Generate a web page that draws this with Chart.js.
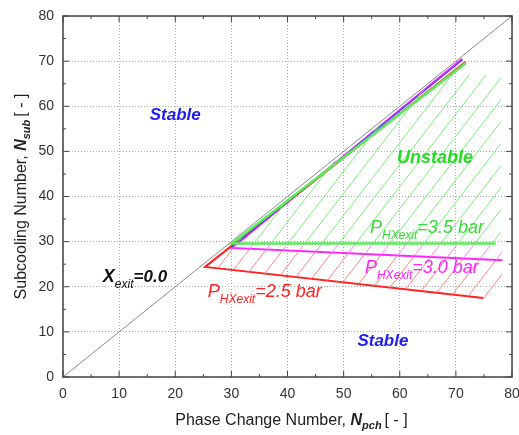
<!DOCTYPE html>
<html>
<head>
<meta charset="utf-8">
<script src="https://cdn.jsdelivr.net/npm/chart.js@4/dist/chart.umd.min.js"></script>
<style>
  html, body { margin: 0; padding: 0; background: #fff; }
  #wrap { width: 519px; height: 435px; }
</style>
</head>
<body>
<div id="wrap"><canvas id="myChart" width="519" height="435"></canvas></div>
<script>
'use strict';

// axis ticks
let xTicks = [0, 10, 20, 30, 40, 50, 60, 70, 80];
let yTicks = [0, 10, 20, 30, 40, 50, 60, 70, 80];

// X_exit = 0.0 line
let diagX = [0, 80];
let diagY = [0, 80];

// stability boundaries (upper branch, vertex, lower branch)
let redX = [71.7, 25.3, 74.9];
let redY = [69.8, 24.4, 17.5];
let blueX = [71.2, 30.1];
let blueY = [70.3, 28.8];
let greenX = [71.8, 30.1, 77.1];
let greenY = [69.6, 29.6, 29.6];
let magentaX = [71.1, 30.1, 78.3];
let magentaY = [70.5, 28.6, 25.9];

// hatched regions
let greenHatchX = [30.1, 67.5, 78, 78];
let greenHatchY = [29.6, 67, 67, 29.6];
let magHatchX = [30.1, 78.3, 78.3, 30.1];
let magHatchY = [29.6, 29.6, 25.9, 28.6];
let redHatchX = [25.3, 30.1, 78.3, 78.3, 74.9];
let redHatchY = [24.4, 28.6, 25.9, 19.5, 17.5];

function pts(xs, ys) {
    return xs.map((x, i) => ({x: x, y: ys[i]}));
}

function hatch(color) {
    let c = document.createElement('canvas');
    c.width = 17;
    c.height = 22;
    let g = c.getContext('2d');
    g.strokeStyle = color;
    g.lineWidth = 1;
    g.beginPath();
    g.moveTo(-17, 44);
    g.lineTo(34, -22);
    g.stroke();
    return g.createPattern(c, 'repeat');
}

function lineSet(xs, ys, color, width) {
    return {
        data: pts(xs, ys),
        showLine: true,
        borderColor: color,
        borderWidth: width,
        pointRadius: 0,
        fill: false
    };
}

function hatchSet(xs, ys, color) {
    return {
        data: pts(xs, ys),
        showLine: true,
        borderWidth: 0,
        borderColor: 'rgba(0,0,0,0)',
        backgroundColor: hatch(color),
        pointRadius: 0,
        fill: 'shape'
    };
}

const FONT = '"Liberation Sans", Arial, sans-serif';

// draw a sequence of text runs (for subscripts)
function drawRuns(ctx, x, y, runs, color) {
    ctx.fillStyle = color;
    ctx.textBaseline = 'alphabetic';
    ctx.textAlign = 'left';
    for (let r of runs) {
        ctx.font = r.f;
        ctx.fillText(r.t, x, y + (r.dy || 0));
        x += ctx.measureText(r.t).width + (r.gap || 0);
    }
}

function runsWidth(ctx, runs) {
    let w = 0;
    for (let r of runs) {
        ctx.font = r.f;
        w += ctx.measureText(r.t).width + (r.gap || 0);
    }
    return w;
}

let decorPlugin = {
    id: 'decor',
    afterDatasetsDraw(chart) {
        let ctx = chart.ctx;
        let xs = chart.scales.x;
        let ys = chart.scales.y;
        let a = chart.chartArea;
        ctx.save();

        // frame
        ctx.strokeStyle = '#444';
        ctx.lineWidth = 1.5;
        ctx.strokeRect(a.left, a.top, a.right - a.left, a.bottom - a.top);

        // inward ticks on all sides
        ctx.lineWidth = 1;
        ctx.beginPath();
        for (let v = 0; v <= 80; v += 5) {
            let len = v % 10 === 0 ? 6 : 3;
            let px = xs.getPixelForValue(v);
            let py = ys.getPixelForValue(v);
            ctx.moveTo(px, a.bottom); ctx.lineTo(px, a.bottom - len);
            ctx.moveTo(px, a.top); ctx.lineTo(px, a.top + len);
            ctx.moveTo(a.left, py); ctx.lineTo(a.left + len, py);
            ctx.moveTo(a.right, py); ctx.lineTo(a.right - len, py);
        }
        ctx.stroke();

        let px = v => xs.getPixelForValue(v);
        let py = v => ys.getPixelForValue(v);

        // region labels
        ctx.textAlign = 'center';
        ctx.textBaseline = 'middle';
        ctx.font = 'italic bold 17px ' + FONT;
        ctx.fillStyle = '#2020ee';
        ctx.fillText('Stable', px(20), py(58.1));
        ctx.fillText('Stable', px(57), py(7.8));
        ctx.font = 'italic bold 18px ' + FONT;
        ctx.fillStyle = '#22dd22';
        ctx.fillText('Unstable', px(66.3), py(48.6));

        let big = 'italic 18px ' + FONT;
        let sub = 'italic 12px ' + FONT;
        drawRuns(ctx, px(54.7), py(31.9), [
            {t: 'P', f: big}, {t: 'HXexit', f: sub, dy: 6}, {t: '=3.5 bar', f: big}
        ], '#33dd33');
        drawRuns(ctx, px(53.8), py(23.1), [
            {t: 'P', f: big}, {t: 'HXexit', f: sub, dy: 6}, {t: '=3.0 bar', f: big}
        ], '#ff22ff');
        drawRuns(ctx, px(25.8), py(17.7), [
            {t: 'P', f: big}, {t: 'HXexit', f: sub, dy: 6}, {t: '=2.5 bar', f: big}
        ], '#ff2222');
        drawRuns(ctx, px(7.1), py(21.1), [
            {t: 'X', f: 'italic bold 18px ' + FONT},
            {t: 'exit', f: 'italic 12px ' + FONT, dy: 6},
            {t: '=0.0', f: 'italic bold 17px ' + FONT}
        ], '#111');

        // axis titles
        let tf = '16px ' + FONT;
        let tb = 'italic bold 16px ' + FONT;
        let ts = 'italic bold 11px ' + FONT;
        let xRuns = [
            {t: 'Phase Change Number, ', f: tf}, {t: 'N', f: tb},
            {t: 'pch', f: ts, dy: 4, gap: 3}, {t: '[ - ]', f: tf}
        ];
        let w = runsWidth(ctx, xRuns);
        drawRuns(ctx, (a.left + a.right) / 2 - w / 2 + 4, 425, xRuns, '#222');

        let yRuns = [
            {t: 'Subcooling Number, ', f: tf}, {t: 'N', f: tb},
            {t: 'sub', f: ts, dy: 4, gap: 3}, {t: '[ - ]', f: tf}
        ];
        w = runsWidth(ctx, yRuns);
        ctx.translate(26, (a.top + a.bottom) / 2);
        ctx.rotate(-Math.PI / 2);
        drawRuns(ctx, -w / 2, 0, yRuns, '#222');

        ctx.restore();
    }
};

let ctx = document.getElementById('myChart').getContext('2d');
let myChart = new Chart(ctx, {
    type: 'scatter',
    data: {
        datasets: [
            hatchSet(greenHatchX, greenHatchY, 'rgba(110,235,110,0.9)'),
            hatchSet(magHatchX, magHatchY, 'rgba(255,120,255,0.9)'),
            hatchSet(redHatchX, redHatchY, 'rgba(255,120,120,0.9)'),
            lineSet(diagX, diagY, '#8a8a8a', 1),
            lineSet(greenX, greenY, '#55ee55', 2.5),
            lineSet(blueX, blueY, '#5a4aff', 1.5),
            lineSet(redX, redY, '#ff2020', 2),
            lineSet(magentaX, magentaY, '#ff22ff', 2)
        ]
    },
    options: {
        responsive: false,
        animation: false,
        layout: { padding: { top: 16, right: 7, left: 0, bottom: 0 } },
        plugins: {
            legend: { display: false },
            tooltip: { enabled: false }
        },
        scales: {
            x: {
                type: 'linear',
                min: 0,
                max: 80,
                afterFit: s => { s.height = 58; s.paddingRight = 0; s.paddingLeft = 0; },
                afterBuildTicks: s => { s.ticks = xTicks.map(v => ({value: v})); },
                ticks: {
                    padding: 9,
                    color: '#333',
                    font: { family: FONT, size: 14 },
                    maxRotation: 0
                },
                grid: { color: '#a8a8a8', lineWidth: 1, drawTicks: false },
                border: { display: false, dash: [1, 2] }
            },
            y: {
                type: 'linear',
                min: 0,
                max: 80,
                afterFit: s => { s.width = 63; s.paddingTop = 0; s.paddingBottom = 0; },
                afterBuildTicks: s => { s.ticks = yTicks.map(v => ({value: v})); },
                ticks: {
                    padding: 9,
                    color: '#333',
                    font: { family: FONT, size: 14 }
                },
                grid: { color: '#a8a8a8', lineWidth: 1, drawTicks: false },
                border: { display: false, dash: [1, 2] }
            }
        }
    },
    plugins: [decorPlugin]
});
</script>
</body>
</html>
